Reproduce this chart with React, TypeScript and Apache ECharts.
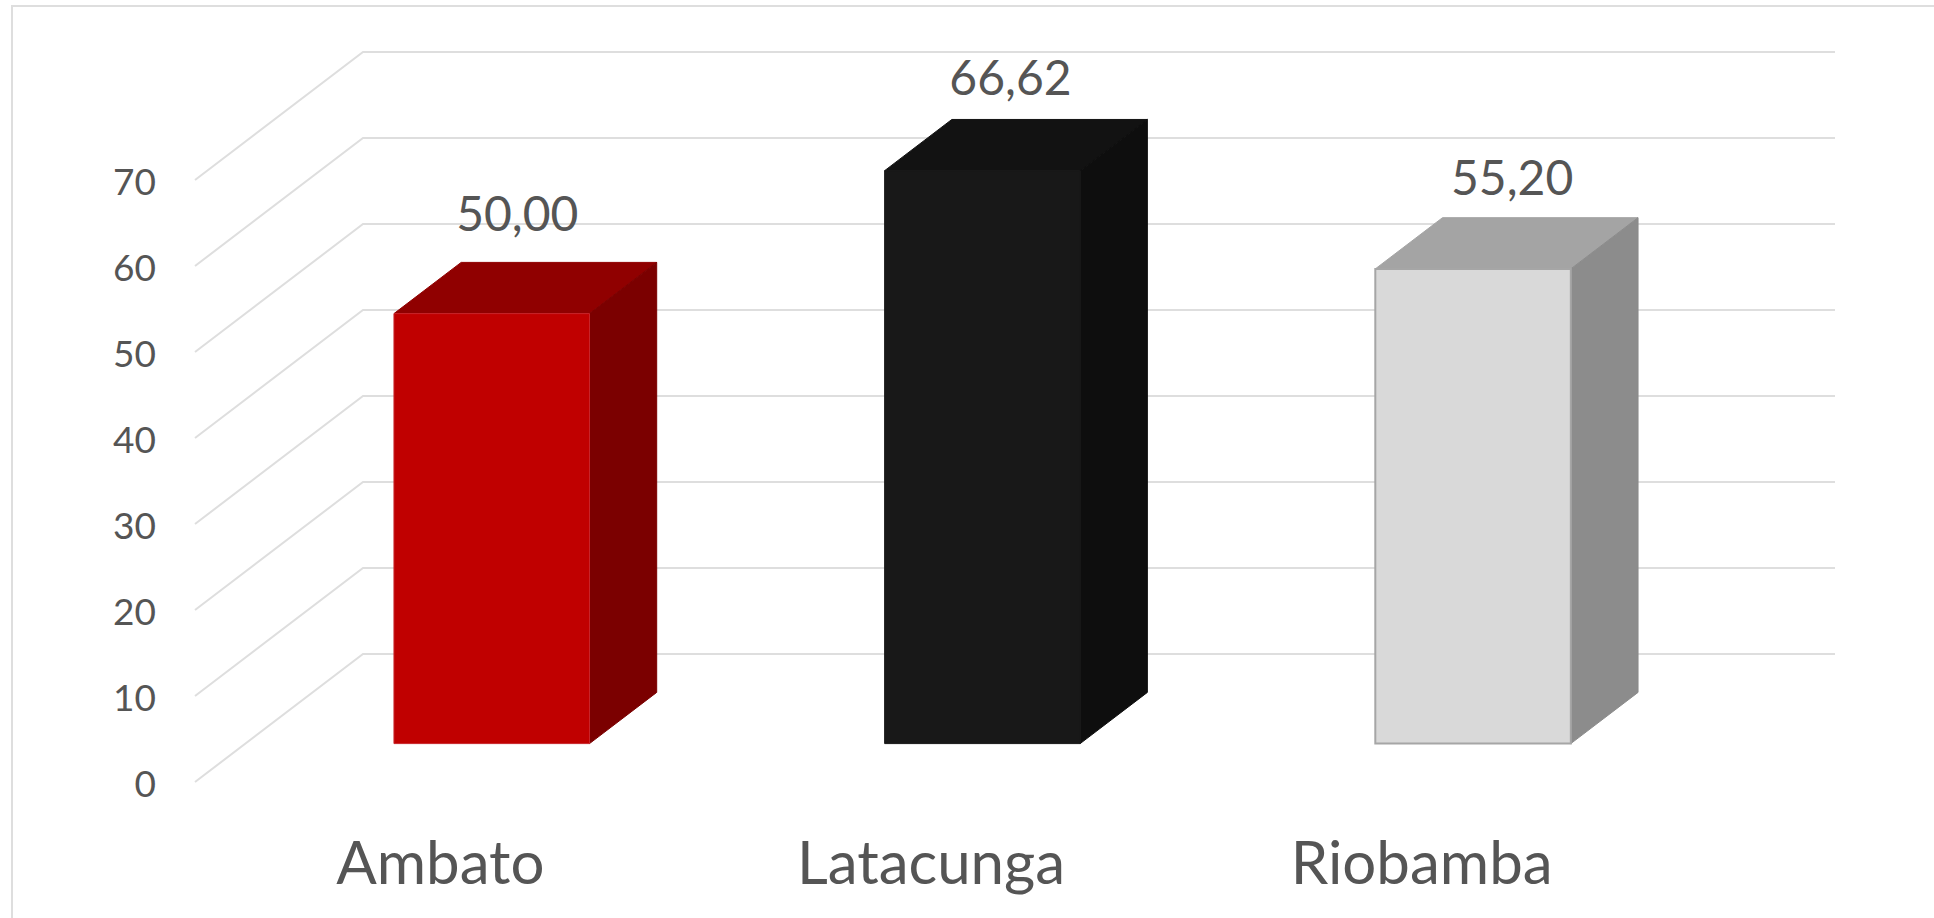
import React, { useEffect, useRef } from "react";
import * as echarts from "echarts";

const categories = ["Ambato", "Latacunga", "Riobamba"];
const values = [50.0, 66.62, 55.2];
const valueLabels = ["50,00", "66,62", "55,20"];
const yTicks = [0, 10, 20, 30, 40, 50, 60, 70];
const frontColors = ["#C00000", "#181818", "#D9D9D9"];
const topColors = ["#900000", "#121212", "#A4A4A4"];
const sideColors = ["#7B0000", "#0E0E0E", "#8C8C8C"];
const edgeColors = ["#C8252A", "#181818", "#A6A6A6"];
const labelNudgeX = [-7, -4.5, 6.5];
const labelNudgeY = [-101.5, -94, -92];

const FONT = "Lato, 'Open Sans', sans-serif";
const TEXT = "#555555";
const GRID = "#DEDEDE";
// oblique floor depth, in pixels
const DEPTH_X = 168;
const DEPTH_Y = 128;
const GAP_RATIO = 0.3; // share of the depth in front of a bar
const BAR_DEPTH = 0.4; // share of the depth taken by a bar
const BAR_WIDTH = 0.3985; // share of the category band
const BAR_SHIFT = 1;

export default function App() {
  const ref = useRef<HTMLDivElement>(null);
  useEffect(() => {
    const chart = echarts.init(ref.current!, null, { renderer: "svg" });
    chart.setOption({
      animation: false,
      backgroundColor: "#FFFFFF",
      graphic: [
        {
          type: "polyline",
          silent: true,
          shape: { points: [[12, 918], [12, 6], [1934, 6]] },
          style: { stroke: GRID, lineWidth: 2, fill: "none" },
        },
      ],
      grid: { left: 195, top: 180, width: 1472, height: 602 },
      xAxis: {
        type: "category",
        data: categories,
        axisLine: { show: false },
        axisTick: { show: false },
        splitLine: { show: false },
        axisLabel: { color: TEXT, fontFamily: FONT, fontSize: 60, margin: 49, interval: 0 },
      },
      yAxis: {
        type: "value",
        min: 0,
        max: 70,
        interval: 10,
        axisLine: { show: false },
        axisTick: { show: false },
        splitLine: { show: false },
        axisLabel: { color: TEXT, fontFamily: FONT, fontSize: 37, margin: 39 },
      },
      series: [
        {
          type: "custom",
          name: "walls",
          silent: true,
          clip: false,
          z: 1,
          data: yTicks.map((t) => [0, t]),
          encode: { x: 0, y: 1 },
          renderItem: (params: any, api: any) => {
            const y = api.coord([0, api.value(1)])[1];
            const cs = params.coordSys;
            return {
              type: "polyline",
              shape: {
                points: [
                  [cs.x, y],
                  [cs.x + DEPTH_X, y - DEPTH_Y],
                  [cs.x + cs.width + DEPTH_X, y - DEPTH_Y],
                ],
              },
              style: { stroke: GRID, lineWidth: 2, fill: "none" },
            };
          },
        },
        {
          type: "custom",
          name: "bars",
          silent: true,
          clip: false,
          z: 2,
          data: values.map((v, i) => [i, v]),
          encode: { x: 0, y: 1 },
          renderItem: (params: any, api: any) => {
            const i = params.dataIndex;
            const [cx, yTop0] = api.coord([i, api.value(1)]);
            const [, yBase0] = api.coord([i, 0]);
            const band = api.size([1, 0])[0];
            const w = band * BAR_WIDTH;
            const ox = DEPTH_X * GAP_RATIO;
            const oy = DEPTH_Y * GAP_RATIO;
            const dx = DEPTH_X * BAR_DEPTH;
            const dy = DEPTH_Y * BAR_DEPTH;
            const l = cx + ox + BAR_SHIFT - w / 2;
            const r = l + w;
            const top = yTop0 - oy;
            const base = yBase0 - oy;
            return {
              type: "group",
              children: [
                {
                  type: "polygon",
                  shape: { points: [[l, top], [l + dx, top - dy], [r + dx, top - dy], [r, top]] },
                  style: { fill: topColors[i], stroke: topColors[i], lineWidth: 1 },
                },
                {
                  type: "polygon",
                  shape: { points: [[r, base], [r + dx, base - dy], [r + dx, top - dy], [r, top]] },
                  style: { fill: sideColors[i], stroke: sideColors[i], lineWidth: 1 },
                },
                {
                  type: "rect",
                  shape: { x: l, y: top, width: w, height: base - top },
                  style: { fill: frontColors[i], stroke: edgeColors[i], lineWidth: i === 2 ? 2 : 1 },
                },
                {
                  type: "text",
                  style: {
                    text: valueLabels[i],
                    x: cx + ox + dx / 2 + labelNudgeX[i],
                    y: top + labelNudgeY[i],
                    fill: TEXT,
                    font: `48px ${FONT}`,
                    align: "center",
                    verticalAlign: "middle",
                  },
                },
              ],
            };
          },
        },
      ],
    });
    return () => chart.dispose();
  }, []);
  return <div ref={ref} style={{ position: "absolute", left: 0, top: 0, width: 1934, height: 918 }} />;
}
